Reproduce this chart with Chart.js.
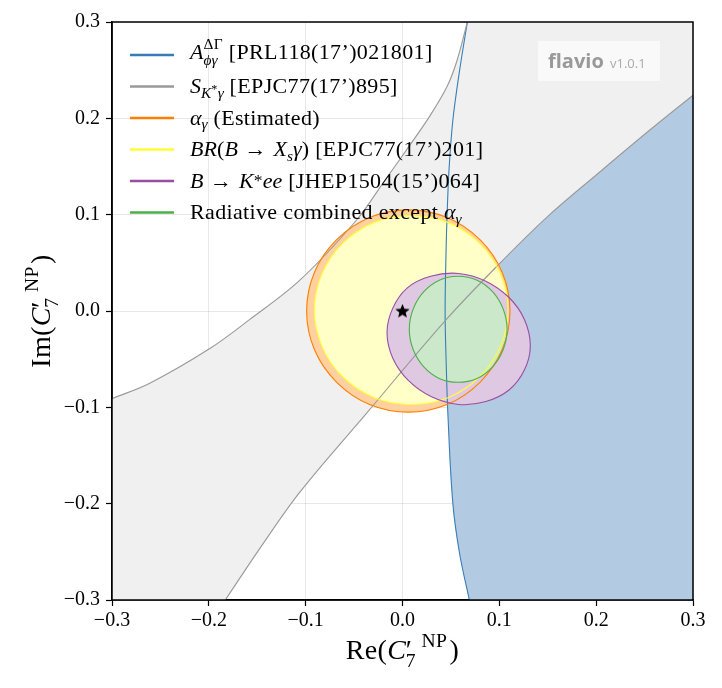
<!DOCTYPE html>
<html>
<head>
<meta charset="utf-8">
<script src="https://cdn.jsdelivr.net/npm/chart.js@4.4.0/dist/chart.umd.min.js"></script>
<style>
  body { margin: 0; background: #fff; }
  #wrap { width: 722px; height: 688px; }
</style>
</head>
<body>
<div id="wrap"><canvas id="c" width="722" height="688"></canvas></div>
<script>
// contour points, [Re, Im]
const blueLine = [[0.067,0.300],[0.059,0.250],[0.052,0.198],[0.048,0.146],[0.046,0.098],[0.045,0.063],[0.044,0.000],[0.045,-0.050],[0.047,-0.110],[0.052,-0.200],[0.059,-0.252],[0.069,-0.300]];
const grayUpper = [[-0.300,-0.091],[-0.261,-0.075],[-0.199,-0.039],[-0.158,-0.009],[-0.106,0.032],[-0.047,0.095],[-0.020,0.133],[0.004,0.167],[0.028,0.202],[0.046,0.233],[0.056,0.259],[0.067,0.300]];
const grayLower = [[-0.183,-0.300],[-0.145,-0.243],[-0.106,-0.188],[-0.037,-0.106],[0.046,-0.008],[0.101,0.050],[0.152,0.100],[0.201,0.142],[0.252,0.185],[0.300,0.224]];
const orangeRing = [[0.111,0.000],[0.103,0.040],[0.080,0.074],[0.046,0.097],[0.006,0.105],[-0.034,0.097],[-0.068,0.074],[-0.091,0.040],[-0.099,0.000],[-0.091,-0.040],[-0.068,-0.074],[-0.034,-0.097],[0.006,-0.105],[0.046,-0.097],[0.080,-0.074],[0.103,-0.040],[0.111,0.000]];
const yellowRing = [[0.109,0.001],[0.101,0.039],[0.080,0.070],[0.047,0.092],[0.009,0.099],[-0.029,0.092],[-0.062,0.070],[-0.083,0.039],[-0.091,0.001],[-0.083,-0.037],[-0.062,-0.068],[-0.029,-0.090],[0.009,-0.097],[0.047,-0.090],[0.080,-0.068],[0.101,-0.037],[0.109,0.001]];
const purpleRing = [[0.126,-0.061],[0.110,-0.082],[0.086,-0.094],[0.058,-0.097],[0.030,-0.089],[0.006,-0.072],[-0.010,-0.049],[-0.016,-0.022],[-0.010,0.003],[0.005,0.024],[0.029,0.036],[0.058,0.039],[0.086,0.031],[0.110,0.014],[0.126,-0.009],[0.132,-0.036],[0.126,-0.061]];
const greenRing = [[0.108,-0.019],[0.104,-0.040],[0.093,-0.058],[0.077,-0.070],[0.057,-0.074],[0.038,-0.070],[0.022,-0.058],[0.011,-0.040],[0.007,-0.019],[0.011,0.002],[0.022,0.020],[0.038,0.032],[0.057,0.036],[0.077,0.032],[0.093,0.020],[0.104,0.002],[0.108,-0.019]];
const smPoint = [[0, 0]];

// where the band edges run on past the frame (only used to close the fills)
const blueOutside = {top: [[0.074,0.34]], end: [[0.078,-0.34],[0.40,-0.34],[0.40,0.34]]};
const grayOutside = {start: [[-0.34,-0.107]], top: [[0.078,0.34],[0.34,0.34],[0.34,0.256]], end: [[-0.21,-0.34],[-0.34,-0.34]]};

const xTicks = [-0.3, -0.2, -0.1, 0, 0.1, 0.2, 0.3];
const xTickLabels = ['−0.3', '−0.2', '−0.1', '0.0', '0.1', '0.2', '0.3'];
const yTicks = [-0.3, -0.2, -0.1, 0, 0.1, 0.2, 0.3];
const yTickLabels = ['−0.3', '−0.2', '−0.1', '0.0', '0.1', '0.2', '0.3'];

// rich text pieces: it = italic (math), rm = upright
const it = (t, o) => Object.assign({t: t, it: true}, o);
const rm = (t, o) => Object.assign({t: t}, o);
const SUB = {s: 0.7, dy: 0.22};
const ARROW = rm('→', {gap: 0.3});
const AFTER = {gap: 0.3};

const legendLabels = [
  [it('A'), rm('ΔΓ', {s: 0.7, dy: -0.45}), it('ϕγ', {s: 0.7, dy: 0.3, stack: true}), rm(' [PRL118(17’)021801]')],
  [it('S'), it('K', SUB), rm('*', {s: 0.55, dy: 0.02}), it('γ', SUB), rm(' [EPJC77(17’)895]')],
  [it('α'), it('γ', SUB), rm(' (Estimated)')],
  [it('BR'), rm('('), it('B'), ARROW, it('X', AFTER), it('s', SUB), it('γ'), rm(')'), rm(' [EPJC77(17’)201]')],
  [it('B'), ARROW, it('K', AFTER), rm('*', {s: 0.8, dy: -0.05}), it('ee'), rm(' [JHEP1504(15’)064]')],
  [rm('Radiative combined except '), it('α'), it('γ', SUB)]
];
const legendColors = ['#377eb8', '#999999', '#ff7f00', '#ffff33', '#984ea3', '#4daf4a'];
const xTitle = [rm('Re('), it('C'), rm('′'), rm('7', {s: 0.7, dy: 0.28, stack: true}), rm('NP', {s: 0.7, dy: -0.42, gap: 0.2}), rm(')', {gap: 0.08})];
const yTitle = [rm('Im('), it('C'), rm('′'), rm('7', {s: 0.7, dy: 0.28, stack: true}), rm('NP', {s: 0.7, dy: -0.42, gap: 0.2}), rm(')', {gap: 0.08})];

function richText(ctx, segs, x, y, size, draw) {
  let cx = x, segStart = x, segEnd = x;
  for (const s of segs) {
    const fs = size * (s.s || 1);
    ctx.font = (s.it ? 'italic ' : '') + fs.toFixed(1) + 'px "Liberation Serif", "DejaVu Serif", serif';
    ctx.letterSpacing = s.it ? '0px' : '0.35px';
    const sx = (s.stack ? segStart : cx) + (s.gap || 0) * size;
    const w = ctx.measureText(s.t).width;
    if (draw) ctx.fillText(s.t, sx, y + (s.dy || 0) * size);
    const end = sx + w;
    if (s.stack) {
      cx = Math.max(segEnd, end);
    } else {
      segStart = sx; segEnd = end; cx = end;
    }
  }
  ctx.letterSpacing = '0px';
  return cx - x;
}

function starImage(size) {
  const c = document.createElement('canvas');
  c.width = c.height = size;
  const g = c.getContext('2d');
  g.fillStyle = '#000';
  g.beginPath();
  for (let i = 0; i < 10; i++) {
    const r = i % 2 ? size * 0.22 : size * 0.5;
    const a = -Math.PI / 2 + i * Math.PI / 5;
    g.lineTo(size / 2 + r * Math.cos(a), size / 2 + 0.5 + r * Math.sin(a));
  }
  g.closePath();
  g.fill();
  return c;
}

const mk = pts => pts.map(p => ({x: p[0], y: p[1]}));
// a closed ring gets its neighbours on both ends so the spline has no corner where it closes
const wrap = r => [r[r.length - 2]].concat(r, [r[1]]);
const HIDE = 'rgba(0,0,0,0)';

function fillSet(pts, color) {
  return {data: mk(pts), fill: 'shape', backgroundColor: color,
    borderColor: HIDE, borderWidth: 0, pointRadius: 0, tension: 0.35, capBezierPoints: false};
}
function lineSet(pts, color) {
  return {data: mk(pts), fill: false, borderColor: color,
    borderWidth: 1.1, pointRadius: 0, tension: 0.35, capBezierPoints: false};
}
function ringLine(ring, color) {
  const pts = wrap(ring);
  const last = pts.length - 1;
  const d = lineSet(pts, color);
  d.segment = {borderColor: c => (c.p0DataIndex === 0 || c.p1DataIndex === last) ? HIDE : undefined};
  return d;
}

const blueShape = blueOutside.top.concat(blueLine, blueOutside.end);
const grayShape = grayOutside.start.concat(grayUpper, grayOutside.top, grayLower.slice().reverse(), grayOutside.end);

// bottom to top
const sets = [
  fillSet(blueShape, '#b3cbe2'),
  fillSet(grayShape, '#f0f0f0'),
  fillSet(wrap(orangeRing), '#ffd0a0'),
  fillSet(wrap(yellowRing), '#ffffc8'),
  fillSet(wrap(purpleRing), '#dfc9e2'),
  fillSet(wrap(greenRing), '#cce8ca'),
  lineSet(blueLine, '#377eb8'),
  lineSet(grayUpper, '#999999'),
  lineSet(grayLower, '#999999'),
  ringLine(orangeRing, '#ff7f00'),
  ringLine(yellowRing, '#ffff33'),
  ringLine(purpleRing, '#984ea3'),
  ringLine(greenRing, '#4daf4a'),
  {data: mk(smPoint), showLine: false, pointStyle: starImage(15), pointRadius: 7}
];
sets.forEach((d, i) => { d.order = sets.length - i; });

const deco = {
  id: 'deco',
  afterDraw(chart) {
    const ctx = chart.ctx, a = chart.chartArea;
    ctx.save();
    ctx.strokeStyle = '#000';
    ctx.lineWidth = 1.5;
    ctx.strokeRect(a.left, a.top, a.right - a.left, a.bottom - a.top);

    // flavio badge
    ctx.fillStyle = 'rgba(255,255,255,0.6)';
    ctx.fillRect(a.right - 155, a.top + 19, 122, 40);
    ctx.fillStyle = '#999';
    ctx.font = 'bold 20px "Open Sans", "DejaVu Sans", sans-serif';
    ctx.textBaseline = 'alphabetic';
    ctx.fillText('flavio', a.right - 145, a.top + 46);
    ctx.fillStyle = '#aaa';
    ctx.font = '13px "Open Sans", "DejaVu Sans", sans-serif';
    ctx.fillText('v1.0.1', a.right - 83, a.top + 46);

    // legend
    ctx.fillStyle = '#000';
    legendLabels.forEach((segs, i) => {
      const y = a.top + 33 + i * 31.5;
      ctx.strokeStyle = legendColors[i];
      ctx.lineWidth = 2.5;
      ctx.beginPath();
      ctx.moveTo(a.left + 18, y);
      ctx.lineTo(a.left + 62, y);
      ctx.stroke();
      richText(ctx, segs, a.left + 78, y + (i ? 6.5 : 3.5), 22, true);
    });

    // axis titles
    const tSize = 28;
    let w = richText(ctx, xTitle, 0, 0, tSize, false);
    richText(ctx, xTitle, (a.left + a.right) / 2 - w / 2, 659, tSize, true);
    w = richText(ctx, yTitle, 0, 0, tSize, false);
    ctx.translate(50, (a.top + a.bottom) / 2);
    ctx.rotate(-Math.PI / 2);
    richText(ctx, yTitle, -w / 2, 0, tSize, true);
    ctx.restore();
  }
};

const tickFont = {family: 'Liberation Serif', size: 20};
new Chart(document.getElementById('c'), {
  type: 'line',
  data: {datasets: sets},
  options: {
    responsive: false,
    animation: false,
    events: [],
    layout: {padding: {top: 22, right: 29, left: 0, bottom: 0}},
    plugins: {legend: {display: false}, tooltip: {enabled: false}},
    scales: {
      x: {
        type: 'linear', min: -0.3, max: 0.3, z: 1,
        afterBuildTicks: s => { s.ticks = xTicks.map(v => ({value: v})); },
        afterFit: s => { s.height = 88; },
        ticks: {callback: (v, i) => xTickLabels[i], font: tickFont, color: '#000', padding: 3, maxRotation: 0, autoSkip: false},
        grid: {color: 'rgba(0,0,0,0.09)', lineWidth: 1, tickColor: '#000', tickLength: 6, tickWidth: 1.2},
        border: {color: '#000', width: 1.5}
      },
      y: {
        type: 'linear', min: -0.3, max: 0.3, z: 1,
        afterBuildTicks: s => { s.ticks = yTicks.map(v => ({value: v})); },
        afterFit: s => { s.width = 112; },
        ticks: {callback: (v, i) => yTickLabels[i], font: tickFont, color: '#000', padding: 6, autoSkip: false},
        grid: {color: 'rgba(0,0,0,0.09)', lineWidth: 1, tickColor: '#000', tickLength: 6, tickWidth: 1.2},
        border: {color: '#000', width: 1.5}
      }
    }
  },
  plugins: [deco]
});
</script>
</body>
</html>
